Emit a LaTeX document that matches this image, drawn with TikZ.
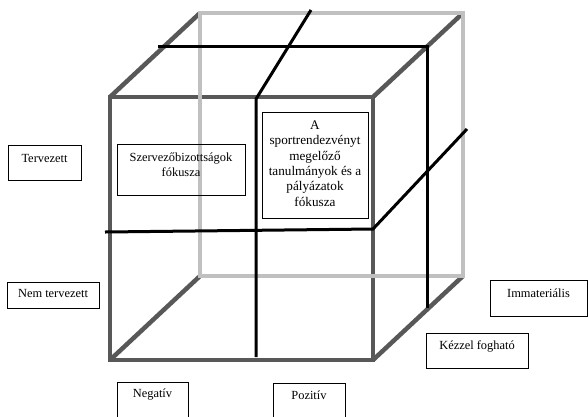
\documentclass[tikz,border=0pt]{standalone}
\usepackage{fontspec}
\setmainfont{Liberation Serif}
\usepackage{xcolor}
\usetikzlibrary{calc}
\definecolor{cubedark}{RGB}{88,88,88}
\definecolor{cubelight}{RGB}{192,192,192}
\tikzset{
  frontedge/.style={cubedark, line width=4.5pt},
  backedge/.style={cubelight, line width=4.5pt},
  cutline/.style={black, line width=3pt},
  tagbox/.style={draw, line width=0.9pt, inner sep=0pt},
  tagtext/.style={font=\fontsize{12.4}{15.3}\selectfont, align=center, inner sep=0pt},
}

\begin{document}
\begin{tikzpicture}[x=1pt, y=-1pt]
\useasboundingbox (0,0) rectangle (588,416);

% Front face and depth edges
\draw[frontedge] (110,97) rectangle (373,360);
\draw[frontedge] (110,97) -- (200,13);
\draw[frontedge] (373,97) -- (463,13);
\draw[frontedge] (110,360) -- (200,276);
\draw[frontedge] (373,360) -- (463,276);

% Back face
\draw[backedge] (200,13) rectangle (463,276);

% Cutting planes
\draw[cutline] (158,46) -- (427,46) -- (427,308);
\draw[cutline] (311,10) -- (256,99) -- (256,357);
\draw[cutline] (105,232) -- (373,229) -- (467,129);

% Inner labels
\node[tagbox, minimum width=128, minimum height=51] (szbox) at (181,169.5) {};
\node[tagtext] (sztxt) at (181,165) {Szervezőbizottságok\\fókusza};
\node[tagbox, minimum width=106, minimum height=106] (spbox) at (315,165) {};
\node[tagtext, font=\fontsize{13.2}{15.3}\selectfont] (sptxt) at (315,163.5) {A\\sportrendezvényt\\megelőző\\tanulmányok és a\\pályázatok\\fókusza};

% Axis labels
\node[tagbox, minimum width=73, minimum height=35] (tervbox) at (44.5,162.5) {};
\node[tagtext] (tervtxt) at (44.5,158) {Tervezett};
\node[tagbox, minimum width=92, minimum height=26] (nembox) at (53,295) {};
\node[tagtext] (nemtxt) at (53,293) {Nem tervezett};
\node[tagbox, minimum width=71, minimum height=38] (negbox) at (152.5,401) {};
\node[tagtext] (negtxt) at (152.5,395) {Negatív};
\node[tagbox, minimum width=72, minimum height=37] (pozbox) at (309,401.5) {};
\node[tagtext] (poztxt) at (309,395) {Pozitív};
\node[tagbox, minimum width=97, minimum height=36] (immbox) at (538.5,298) {};
\node[tagtext] (immtxt) at (538.5,293) {Immateriális};
\node[tagbox, minimum width=102, minimum height=35] (kezbox) at (477,350.5) {};
\node[tagtext] (keztxt) at (477,346) {Kézzel fogható};
\end{tikzpicture}
\end{document}
